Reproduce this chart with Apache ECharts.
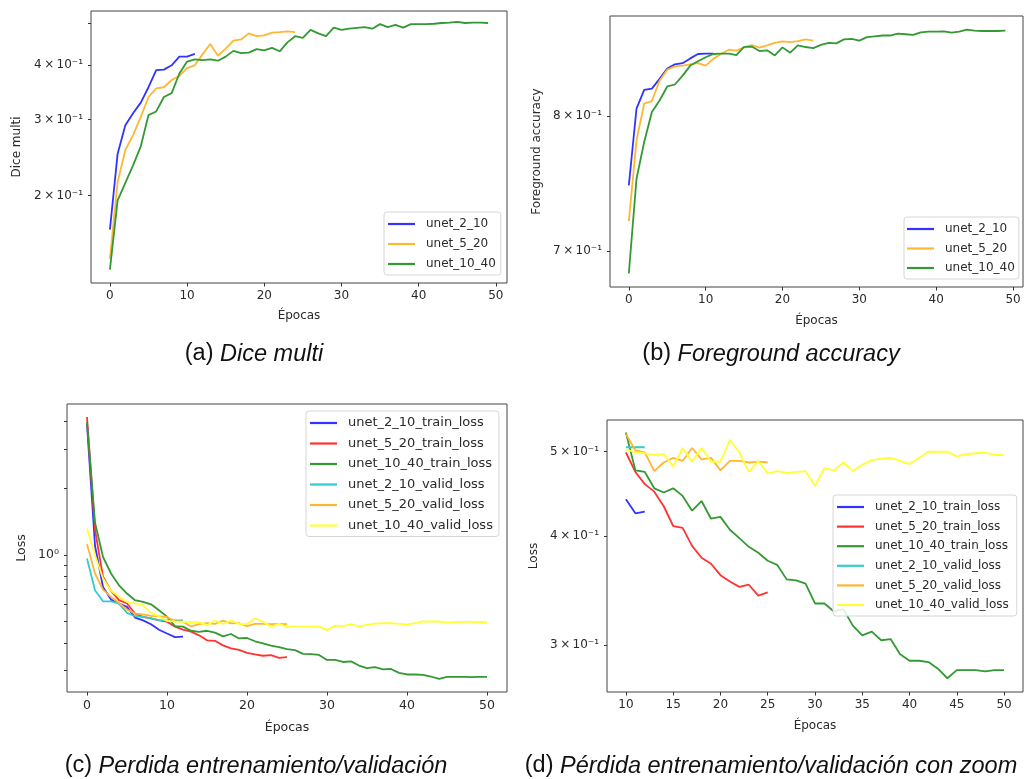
<!DOCTYPE html>
<html lang="es">
<head>
<meta charset="UTF-8">
<title>Curvas de entrenamiento unet</title>
<script src="https://cdn.jsdelivr.net/npm/echarts@6.0.0/dist/echarts.min.js"></script>
<style>
  body { margin: 0; background: #fff; }
  #main { width: 1024px; height: 779px; }
</style>
</head>
<body>
<div id="main"></div>

<script type="text/javascript">
// ---- datos (un valor por epoca, empezando en la 0) ----

// (a) Dice multi
var diceUnet2 = [0.167, 0.250, 0.291, 0.310, 0.328, 0.356, 0.390, 0.391, 0.400, 0.419, 0.419, 0.425];
var diceUnet5 = [0.143, 0.215, 0.255, 0.276, 0.304, 0.338, 0.354, 0.356, 0.370, 0.378, 0.394, 0.400, 0.424,
  0.448, 0.421, 0.437, 0.456, 0.459, 0.474, 0.467, 0.469, 0.476, 0.477, 0.479, 0.477];
var diceUnet10 = [0.135, 0.195, 0.214, 0.235, 0.260, 0.307, 0.313, 0.338, 0.345, 0.383,
  0.408, 0.413, 0.411, 0.413, 0.410, 0.419, 0.432, 0.427, 0.428, 0.436,
  0.433, 0.439, 0.431, 0.452, 0.467, 0.463, 0.483, 0.474, 0.467, 0.489,
  0.483, 0.486, 0.488, 0.490, 0.486, 0.498, 0.490, 0.496, 0.489, 0.498,
  0.498, 0.498, 0.499, 0.501, 0.502, 0.504, 0.501, 0.502, 0.502, 0.501];

// (b) Foreground accuracy
var accUnet2 = [0.747, 0.806, 0.821, 0.822, 0.830, 0.8385, 0.842, 0.843, 0.847, 0.8507, 0.851, 0.851];
var accUnet5 = [0.721, 0.781, 0.810, 0.812, 0.8285, 0.8376, 0.8404, 0.841, 0.842, 0.843, 0.841, 0.8466, 0.8507,
  0.8543, 0.8536, 0.8563, 0.8583, 0.856, 0.858, 0.8602, 0.8614, 0.8608, 0.8616, 0.8631, 0.862];
var accUnet10 = [0.6846, 0.7519, 0.7797, 0.8032, 0.8124, 0.8238, 0.8254, 0.8327, 0.841, 0.8446,
  0.848, 0.8507, 0.851, 0.851, 0.8498, 0.8568, 0.857, 0.8532, 0.8538, 0.8495,
  0.8563, 0.8518, 0.858, 0.8566, 0.8557, 0.8584, 0.8602, 0.8597, 0.8631, 0.8636,
  0.862, 0.865, 0.8657, 0.8664, 0.8664, 0.868, 0.8675, 0.867, 0.8691, 0.8697,
  0.8697, 0.870, 0.8688, 0.8697, 0.8714, 0.8706, 0.8703, 0.8703, 0.8703, 0.8706];

// (c) y (d) perdidas
var trainUnet2 = [3.9, 1.1, 0.716, 0.628, 0.602, 0.582, 0.521, 0.506, 0.486, 0.459, 0.441, 0.425, 0.427];
var trainUnet5 = [4.2, 1.3, 0.796, 0.688, 0.624, 0.603, 0.543, 0.525, 0.516, 0.506,
  0.499, 0.474, 0.459, 0.450, 0.433, 0.411, 0.409, 0.390, 0.378, 0.372,
  0.361, 0.355, 0.350, 0.352, 0.342, 0.345];
var trainUnet10 = [4.0, 1.4, 0.98, 0.824, 0.729, 0.669, 0.624, 0.613, 0.598, 0.562,
  0.526, 0.476, 0.474, 0.454, 0.449, 0.454, 0.445, 0.428, 0.439, 0.419,
  0.421, 0.407, 0.398, 0.389, 0.383, 0.375, 0.371, 0.357, 0.356, 0.353,
  0.335, 0.335, 0.328, 0.330, 0.316, 0.308, 0.311, 0.304, 0.305, 0.293,
  0.288, 0.288, 0.287, 0.282, 0.275, 0.281, 0.281, 0.281, 0.280, 0.281, 0.281];
var validUnet2 = [0.963, 0.692, 0.617, 0.617, 0.602, 0.547, 0.528, 0.525, 0.516, 0.507, 0.506, 0.506, 0.506];
var validUnet5 = [1.118, 0.824, 0.697, 0.646, 0.606, 0.566, 0.543, 0.538, 0.530, 0.527,
  0.524, 0.502, 0.499, 0.475, 0.486, 0.492, 0.488, 0.505, 0.490, 0.492,
  0.476, 0.488, 0.488, 0.486, 0.487, 0.486];
var validUnet10 = [1.316, 0.997, 0.782, 0.688, 0.646, 0.613, 0.602, 0.592, 0.547, 0.527,
  0.503, 0.499, 0.498, 0.496, 0.497, 0.481, 0.505, 0.487, 0.505, 0.487,
  0.487, 0.516, 0.499, 0.474, 0.488, 0.472, 0.475, 0.473, 0.474, 0.475,
  0.457, 0.479, 0.476, 0.486, 0.475, 0.483, 0.489, 0.491, 0.492, 0.488,
  0.484, 0.492, 0.500, 0.500, 0.500, 0.494, 0.497, 0.498, 0.499, 0.496, 0.496];

// marcas de los ejes
var xTicksFull = [0, 10, 20, 30, 40, 50];
var xTicksZoom = [10, 15, 20, 25, 30, 35, 40, 45, 50];
var yTicksDice = [0.2, 0.3, 0.4, 0.5];
var yLabelValsDice = [0.2, 0.3, 0.4];
var yLabelsDice = ['2\u2009×\u200910⁻¹', '3\u2009×\u200910⁻¹', '4\u2009×\u200910⁻¹'];
var yTicksAcc = [0.7, 0.8];
var yLabelsAcc = ['7\u2009×\u200910⁻¹', '8\u2009×\u200910⁻¹'];
var yTicksLoss = [0.3, 0.4, 0.5, 0.6, 0.7, 0.8, 0.9, 1, 2, 3, 4];
var yLabelValsLoss = [1];
var yLabelsLoss = ['10⁰'];
var yTicksZoom = [0.3, 0.4, 0.5];
var yLabelsZoom = ['3\u2009×\u200910⁻¹', '4\u2009×\u200910⁻¹', '5\u2009×\u200910⁻¹'];

var namesMetric = ['unet_2_10', 'unet_5_20', 'unet_10_40'];
var namesLoss = ['unet_2_10_train_loss', 'unet_5_20_train_loss', 'unet_10_40_train_loss',
  'unet_2_10_valid_loss', 'unet_5_20_valid_loss', 'unet_10_40_valid_loss'];

// colores de matplotlib con alpha 0.8 sobre blanco
var cBlue = '#3333ff', cOrange = '#ffb733', cGreen = '#339933';
var cRed = '#ff3333', cCyan = '#33cccc', cYellow = '#ffff33';

var FONT = 'DejaVu Sans';
var TXT = '#2a2a2a';

var myChart = echarts.init(document.getElementById('main'));

function lg(v) { return Math.log10(v); }

// serie de linea; el eje y es el log10 del valor (eje logaritmico)
function serie(name, values, color, idx, start) {
    start = start || 0;
    return {
        name: name, type: 'line', xAxisIndex: idx, yAxisIndex: idx,
        data: values.slice(start).map(function (v, i) { return [i + start, lg(v)]; }),
        symbol: 'none', showSymbol: false, silent: true, animation: false,
        lineStyle: {width: 1.8, color: color}, itemStyle: {color: color}
    };
}

function ejeX(idx, min, max, ticks, gap, fs) {
    return {
        type: 'value', gridIndex: idx, min: min, max: max,
        name: 'Épocas', nameLocation: 'middle', nameGap: gap,
        nameTextStyle: {fontFamily: FONT, fontSize: fs, color: TXT},
        axisLine: {show: false, onZero: false},
        axisTick: {show: true, customValues: ticks, length: 3.5, lineStyle: {color: '#333'}},
        axisLabel: {customValues: ticks, margin: 7, fontFamily: FONT, fontSize: fs, color: TXT},
        splitLine: {show: false}
    };
}

function ejeY(idx, min, max, ticks, labelVals, labels, name, gap, fs) {
    var labelPos = labelVals.map(lg);
    return {
        type: 'value', gridIndex: idx, min: lg(min), max: lg(max),
        name: name, nameLocation: 'middle', nameGap: gap, nameRotate: 90,
        nameTextStyle: {fontFamily: FONT, fontSize: fs, color: TXT},
        axisLine: {show: false, onZero: false},
        axisTick: {show: true, customValues: ticks.map(lg), length: 3, lineStyle: {color: '#333'}},
        axisLabel: {
            customValues: labelPos, margin: 8, fontFamily: FONT, fontSize: fs, color: TXT,
            formatter: function (v) {
                for (var i = 0; i < labelPos.length; i++) {
                    if (Math.abs(labelPos[i] - v) < 1e-6) return labels[i];
                }
                return '';
            }
        },
        splitLine: {show: false}
    };
}

function leyenda(names, left, top, fs, gap, pad) {
    return {
        data: names, orient: 'vertical', left: left, top: top,
        icon: 'rect', itemWidth: 27, itemHeight: 2.2, itemGap: gap,
        padding: pad, backgroundColor: 'rgba(255,255,255,0.85)',
        borderColor: '#d6d6d6', borderWidth: 1, borderRadius: 3,
        selectedMode: false,
        textStyle: {fontFamily: FONT, fontSize: fs, color: TXT, lineHeight: 14, padding: [0, 0, 0, 6]}
    };
}

function pie(x, y, tag, text) {
    return {
        type: 'text', x: x, y: y, silent: true,
        style: {
            text: '{n|' + tag + ' }{i|' + text + '}',
            align: 'center', verticalAlign: 'middle',
            rich: {
                n: {fontFamily: 'Liberation Sans', fontSize: 23.5, fill: '#111'},
                i: {fontFamily: 'Liberation Sans', fontSize: 23.5, fontStyle: 'italic', fill: '#111'}
            }
        }
    };
}

var gridStyle = {show: true, borderColor: '#444', borderWidth: 1, backgroundColor: 'transparent'};

myChart.setOption({
    animation: false,
    grid: [
        Object.assign({left: 91, top: 11, width: 416, height: 272}, gridStyle),
        Object.assign({left: 610, top: 16, width: 413, height: 271}, gridStyle),
        Object.assign({left: 67, top: 404, width: 440, height: 288}, gridStyle),
        Object.assign({left: 607, top: 420, width: 416, height: 272}, gridStyle)
    ],
    xAxis: [
        ejeX(0, -2.45, 51.45, xTicksFull, 27, 12),
        ejeX(1, -2.45, 51.3, xTicksFull, 28, 12),
        ejeX(2, -2.5, 52.5, xTicksFull, 29, 12.5),
        ejeX(3, 8, 52, xTicksZoom, 28, 12)
    ],
    yAxis: [
        ejeY(0, 0.1257, 0.534, yTicksDice, yLabelValsDice, yLabelsDice, 'Dice multi', 68, 12),
        ejeY(1, 0.6755, 0.8833, yTicksAcc, yTicksAcc, yLabelsAcc, 'Foreground accuracy', 67, 12),
        ejeY(2, 0.240, 4.81, yTicksLoss, yLabelValsLoss, yLabelsLoss, 'Loss', 39, 12.5),
        ejeY(3, 0.2652, 0.5437, yTicksZoom, yTicksZoom, yLabelsZoom, 'Loss', 67, 12)
    ],
    legend: [
        leyenda(namesMetric, 384, 212, 12, 6, [5, 5, 4, 4]),
        leyenda(namesMetric, 904, 217, 12, 5.5, [5, 4, 4, 3]),
        leyenda(namesLoss, 306, 411, 13, 6.5, [5, 6, 4, 4]),
        leyenda(namesLoss, 833, 495, 12, 5.6, [5, 8, 4, 4])
    ],
    graphic: [
        pie(254, 354, '(a)', 'Dice multi'),
        pie(771, 354, '(b)', 'Foreground accuracy'),
        pie(256, 766, '(c)', 'Perdida entrenamiento/validación'),
        pie(771, 766, '(d)', 'Pérdida entrenamiento/validación con zoom')
    ],
    series: [
        serie('unet_2_10', diceUnet2, cBlue, 0),
        serie('unet_5_20', diceUnet5, cOrange, 0),
        serie('unet_10_40', diceUnet10, cGreen, 0),

        serie('unet_2_10', accUnet2, cBlue, 1),
        serie('unet_5_20', accUnet5, cOrange, 1),
        serie('unet_10_40', accUnet10, cGreen, 1),

        serie('unet_2_10_train_loss', trainUnet2, cBlue, 2),
        serie('unet_5_20_train_loss', trainUnet5, cRed, 2),
        serie('unet_10_40_train_loss', trainUnet10, cGreen, 2),
        serie('unet_2_10_valid_loss', validUnet2, cCyan, 2),
        serie('unet_5_20_valid_loss', validUnet5, cOrange, 2),
        serie('unet_10_40_valid_loss', validUnet10, cYellow, 2),

        // (d): las mismas curvas desde la epoca 10
        serie('unet_2_10_train_loss', trainUnet2, cBlue, 3, 10),
        serie('unet_5_20_train_loss', trainUnet5, cRed, 3, 10),
        serie('unet_10_40_train_loss', trainUnet10, cGreen, 3, 10),
        serie('unet_2_10_valid_loss', validUnet2, cCyan, 3, 10),
        serie('unet_5_20_valid_loss', validUnet5, cOrange, 3, 10),
        serie('unet_10_40_valid_loss', validUnet10, cYellow, 3, 10)
    ]
});
</script>
</body>
</html>
